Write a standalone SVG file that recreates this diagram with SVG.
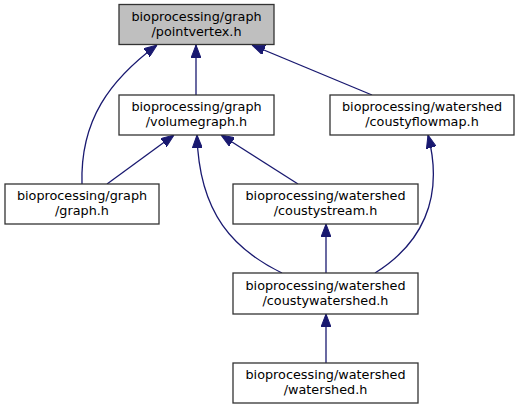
<svg xmlns="http://www.w3.org/2000/svg" width="519" height="409" viewBox="0 0 519 409">
<style>
.box{fill:#ffffff;stroke:#333333;stroke-width:1.3}
.root{fill:#bfbfbf}
text{font-family:"DejaVu Sans",sans-serif;font-size:12.8px;fill:#000;text-anchor:middle}
.e{fill:none;stroke:#191970;stroke-width:1.3;marker-end:url(#ah)}
</style>
<defs>
<marker id="ah" markerUnits="userSpaceOnUse" markerWidth="13" markerHeight="10" refX="13" refY="5" orient="auto">
<path d="M0,0 L13,5 L0,10 z" fill="#191970" stroke="#191970" stroke-width="1"/>
</marker>
</defs>
<g id="edges">
<path class="e" d="M196,95 L196,45"/>
<path class="e" d="M82,184 C80,120 110,80 157,45"/>
<path class="e" d="M372,95 L252,45"/>
<path class="e" d="M107,184 L174,135"/>
<path class="e" d="M298,184 L221,135"/>
<path class="e" d="M282,273 C235,250 199,215 197,135"/>
<path class="e" d="M375,273 C420,245 445,200 428,135"/>
<path class="e" d="M326,273 L326,224"/>
<path class="e" d="M326,363 L326,314"/>
</g>
<g id="pointvertex">
<rect class="box root" x="119" y="4.5" width="155" height="40"/>
<text x="196.5" y="20.5">bioprocessing/graph</text>
<text x="196.5" y="35.5">/pointvertex.h</text>
</g>
<g id="volumegraph">
<rect class="box" x="119" y="95" width="155" height="40"/>
<text x="196.5" y="111">bioprocessing/graph</text>
<text x="196.5" y="126">/volumegraph.h</text>
</g>
<g id="coustyflowmap">
<rect class="box" x="330" y="95" width="184" height="40"/>
<text x="422" y="111">bioprocessing/watershed</text>
<text x="422" y="126">/coustyflowmap.h</text>
</g>
<g id="graph">
<rect class="box" x="5" y="184" width="154" height="40"/>
<text x="82" y="200">bioprocessing/graph</text>
<text x="82" y="215">/graph.h</text>
</g>
<g id="coustystream">
<rect class="box" x="233" y="184" width="185" height="40"/>
<text x="325.5" y="200">bioprocessing/watershed</text>
<text x="325.5" y="215">/coustystream.h</text>
</g>
<g id="coustywatershed">
<rect class="box" x="233" y="273" width="185" height="41"/>
<text x="325.5" y="289.5">bioprocessing/watershed</text>
<text x="325.5" y="304.5">/coustywatershed.h</text>
</g>
<g id="watershed">
<rect class="box" x="233" y="363" width="185" height="40"/>
<text x="325.5" y="379">bioprocessing/watershed</text>
<text x="325.5" y="394">/watershed.h</text>
</g>
</svg>
